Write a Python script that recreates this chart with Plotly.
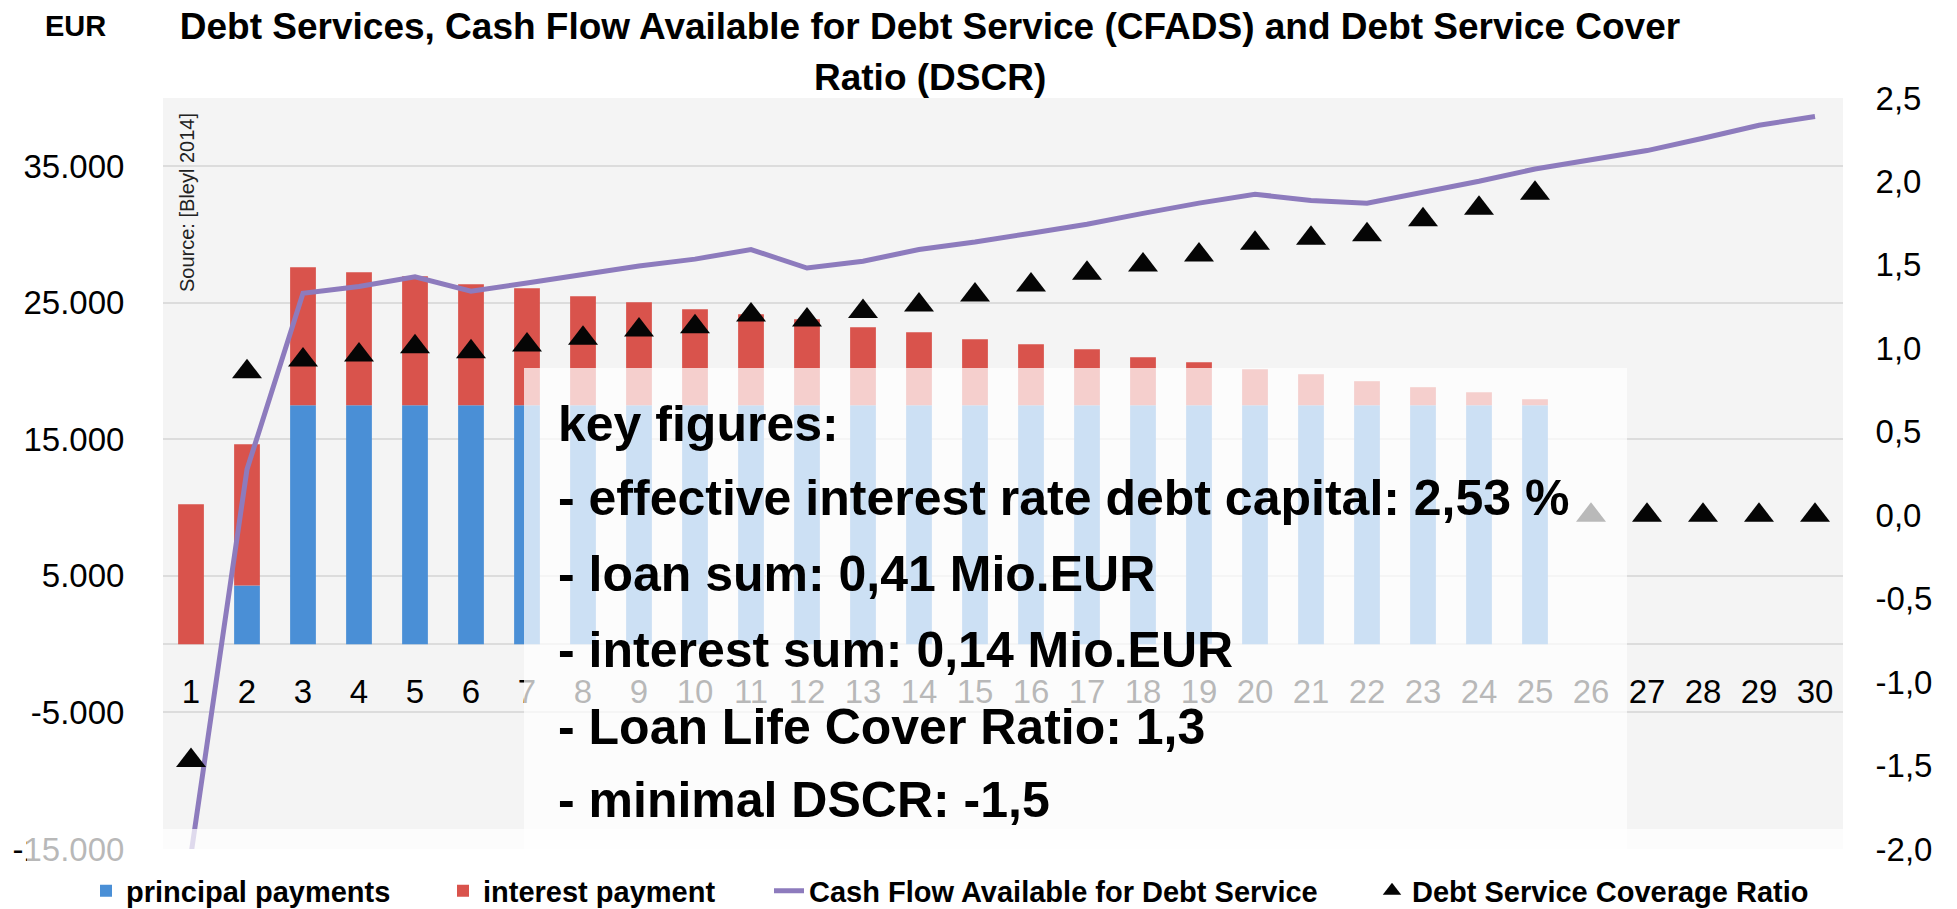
import plotly.graph_objects as go

# ---------------- data ----------------
years = [str(i) for i in range(1, 31)]
year_x = list(range(1, 31))

principal_payments = [0, 4300, 17500, 17500, 17500, 17500, 17500, 17500, 17500, 17500,
                      17500, 17500, 17500, 17500, 17500, 17500, 17500, 17500, 17500, 17500,
                      17500, 17500, 17500, 17500, 17500, 0, 0, 0, 0, 0]
interest_payment = [10250, 10350, 10100, 9740, 9450, 8860, 8570, 7980, 7540, 7030,
                    6660, 6300, 5710, 5345, 4830, 4470, 4100, 3515, 3150, 2640,
                    2270, 1760, 1320, 950, 440, 0, 0, 0, 0, 0]
cfads = [-15400, 12800, 25700, 26200, 26900, 25850, 26450, 27100, 27700, 28200,
         28900, 27550, 28050, 28900, 29450, 30100, 30750, 31550, 32300, 32950,
         32500, 32300, 33100, 33900, 34800, 35450, 36150, 37050, 38000, 38650]
dscr = [-1.47, 0.86, 0.93, 0.96, 1.01, 0.98, 1.02, 1.06, 1.11, 1.13,
        1.20, 1.17, 1.22, 1.26, 1.32, 1.38, 1.45, 1.50, 1.56, 1.63,
        1.66, 1.68, 1.77, 1.84, 1.93, 0.0, 0.0, 0.0, 0.0, 0.0]

left_tickvals = [-15000, -5000, 5000, 15000, 25000, 35000]
left_ticktext = ["-15.000", "-5.000", "5.000", "15.000", "25.000", "35.000"]
right_tickvals = [-2.0, -1.5, -1.0, -0.5, 0.0, 0.5, 1.0, 1.5, 2.0, 2.5]
right_ticktext = ["-2,0", "-1,5", "-1,0", "-0,5", "0,0", "0,5", "1,0", "1,5", "2,0", "2,5"]

title_lines = ["Debt Services, Cash Flow Available for Debt Service (CFADS) and Debt Service Cover",
               "Ratio (DSCR)"]
key_figures = [
    "key figures:",
    "- effective interest rate debt capital: 2,53 %",
    "- loan sum: 0,41 Mio.EUR",
    "- interest sum: 0,14 Mio.EUR",
    "- Loan Life Cover Ratio: 1,3",
    "- minimal DSCR: -1,5",
]

# ---------------- layout geometry (pixels) ----------------
W, H = 1957, 909
PL, PR, PT, PB = 163, 1843, 98, 849


def px_x(px):
    return (px - PL) / (PR - PL)


def px_y(py):
    return (PB - py) / (PB - PT)


FONT = "Liberation Sans, Arial, sans-serif"

fig = go.Figure()

fig.add_trace(go.Bar(
    x=year_x, y=principal_payments, name="principal payments",
    marker=dict(color="#4a8fd6", line=dict(width=0)),
    width=0.46, legend="legend",
))
fig.add_trace(go.Bar(
    x=year_x, y=interest_payment, name="interest payment",
    marker=dict(color="#d9534c", line=dict(width=0)),
    width=0.46, legend="legend2",
))
fig.add_trace(go.Scatter(
    x=year_x, y=cfads, name="Cash Flow Available for Debt Service",
    mode="lines", line=dict(color="#8d7bbd", width=5),
    legend="legend3",
))
fig.add_trace(go.Scatter(
    x=year_x, y=dscr, name="Debt Service Coverage Ratio", yaxis="y2",
    mode="markers",
    marker=dict(symbol="triangle-up", size=26, color="#050505",
                line=dict(color="#000000", width=0)),
    legend="legend4",
))

leg_font = dict(family=FONT, size=29, color="black", weight="bold")
leg_common = dict(orientation="h", yanchor="middle", xanchor="left",
                  bgcolor="rgba(0,0,0,0)", font=leg_font, y=px_y(891))

shapes = [
    dict(type="rect", xref="paper", yref="paper",
         x0=px_x(524), x1=px_x(1627), y0=px_y(849), y1=px_y(368),
         fillcolor="white", opacity=0.72, line=dict(width=0), layer="above"),
    dict(type="rect", xref="paper", yref="paper",
         x0=px_x(27), x1=px_x(1860), y0=px_y(909), y1=px_y(829),
         fillcolor="white", opacity=0.72, line=dict(width=0), layer="above"),
]

annotations = [
    dict(text=title_lines[1], xref="paper", yref="paper", x=px_x(930), y=px_y(77),
         xanchor="center", yanchor="middle", showarrow=False,
         font=dict(family=FONT, size=37, color="black", weight="bold")),
    dict(text="EUR", xref="paper", yref="paper", x=px_x(75), y=px_y(26),
         xanchor="center", yanchor="middle", showarrow=False,
         font=dict(family=FONT, size=29, color="black", weight="bold")),
    dict(text="Source: [Bleyl 2014]", xref="paper", yref="paper",
         x=px_x(187), y=px_y(203), xanchor="center", yanchor="middle",
         textangle=-90, showarrow=False,
         font=dict(family=FONT, size=20, color="#222222")),
]
kf_centers = [424, 498, 574, 650, 727, 800]
for txt, cy in zip(key_figures, kf_centers):
    annotations.append(dict(
        text=txt, xref="paper", yref="paper", x=px_x(556), y=px_y(cy),
        xanchor="left", yanchor="middle", showarrow=False,
        font=dict(family=FONT, size=50, color="black", weight="bold")))

fig.update_layout(
    width=W, height=H,
    margin=dict(l=PL, r=W - PR, t=PT, b=H - PB, pad=0, autoexpand=False),
    paper_bgcolor="white", plot_bgcolor="#f4f4f4",
    barmode="relative", bargap=0.5,
    showlegend=True,
    title=dict(
        text=title_lines[0],
        x=930 / W, xanchor="center", xref="container",
        y=1 - 26 / H, yanchor="middle", yref="container",
        font=dict(family=FONT, size=37, color="black", weight="bold"),
    ),
    xaxis=dict(
        range=[0.5, 30.5], tickmode="array", tickvals=year_x, ticktext=years,
        anchor="free", position=px_y(643), showgrid=False, zeroline=False,
        showline=False, ticks="outside", ticklen=19, tickcolor="rgba(0,0,0,0)",
        tickfont=dict(family=FONT, size=33, color="black"),
    ),
    yaxis=dict(
        range=[-15000, 40000], tickmode="array", tickvals=left_tickvals,
        ticktext=left_ticktext, showgrid=True, gridcolor="#dcdcdc", gridwidth=2,
        zeroline=True, zerolinecolor="#dcdcdc", zerolinewidth=2,
        showline=False, ticks="outside", ticklen=31, tickcolor="rgba(0,0,0,0)",
        tickfont=dict(family=FONT, size=33, color="black"),
    ),
    yaxis2=dict(
        range=[-2.0, 2.5], overlaying="y", side="right", tickmode="array",
        tickvals=right_tickvals, ticktext=right_ticktext, showgrid=False,
        zeroline=False, showline=False, ticks="outside", ticklen=25,
        tickcolor="rgba(0,0,0,0)",
        tickfont=dict(family=FONT, size=33, color="black"),
    ),
    legend=dict(x=px_x(86), **leg_common),
    legend2=dict(x=px_x(443), **leg_common),
    legend3=dict(x=px_x(769), **leg_common),
    legend4=dict(x=px_x(1372), **leg_common),
    shapes=shapes,
    annotations=annotations,
)

fig.write_html(
    "out.html",
    config={"displayModeBar": False},
    post_script="document.body.style.margin='0px';document.body.style.padding='0px';",
)
